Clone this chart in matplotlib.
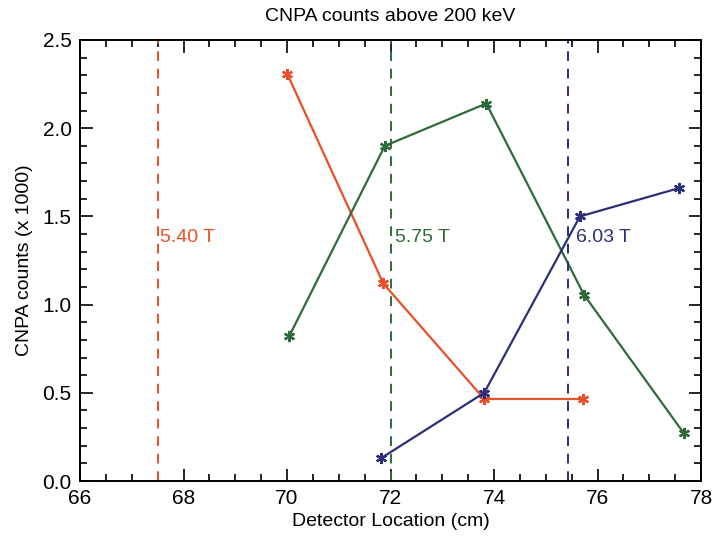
import numpy as np
import matplotlib.pyplot as plt
from matplotlib.ticker import MultipleLocator

plt.rcParams['font.family'] = ['Liberation Sans', 'DejaVu Sans']

# CNPA counts (x 1000) vs detector location (cm) for three field strengths
x_540 = [70.0, 71.86, 73.81, 75.72]
y_540 = [2.31, 1.12, 0.465, 0.465]

x_575 = [70.04, 71.89, 73.85, 75.74, 77.67]
y_575 = [0.82, 1.90, 2.14, 1.055, 0.27]

x_603 = [71.82, 73.81, 75.66, 77.57]
y_603 = [0.13, 0.50, 1.50, 1.66]

# resonance locations (dashed) and labels
res_x = [67.5, 72.0, 75.42]
res_labels = ["5.40 T", "5.75 T", "6.03 T"]
label_x = [67.55, 72.09, 75.58]
label_y = 1.38

red = '#e8502a'
green = '#2e6b3a'
blue = '#2b2f7a'
colors = [red, green, blue]

fig = plt.figure(figsize=(7.12, 5.42), dpi=100)
ax = fig.add_axes([0.1124, 0.1125, 0.8722, 0.8137])

star = (6, 2, 0)
for xs, ys, c in [(x_540, y_540, red), (x_575, y_575, green), (x_603, y_603, blue)]:
    ax.plot(xs, ys, color=c, lw=1.6, marker=star, ms=8, mew=1.6)

for xr, lab, lx, c in zip(res_x, res_labels, label_x, colors):
    ax.axvline(xr, color=c, ls=(0, (5, 4)), lw=1.4)
    ax.text(lx, label_y, lab, color=c, fontsize=14, va='center', ha='left')

ax.set_xlim(66, 78)
ax.set_ylim(0, 2.5)
ax.xaxis.set_major_locator(MultipleLocator(2))
ax.xaxis.set_minor_locator(MultipleLocator(0.5))
ax.yaxis.set_major_locator(MultipleLocator(0.5))
ax.yaxis.set_minor_locator(MultipleLocator(0.1))
ax.yaxis.set_major_formatter(plt.FormatStrFormatter('%.1f'))
ax.tick_params(which='both', direction='in', top=True, right=True, width=1.2)
ax.tick_params(which='major', length=9, labelsize=15, pad=6)
ax.tick_params(which='minor', length=5)
for s in ax.spines.values():
    s.set_linewidth(1.4)

ax.set_xlabel("Detector Location (cm)", fontsize=14, labelpad=3)
ax.set_ylabel("CNPA counts (x 1000)", fontsize=14, labelpad=7)
ax.set_title("CNPA counts above 200 keV", fontsize=14, pad=14)

fig.savefig("out.png", dpi=100)
